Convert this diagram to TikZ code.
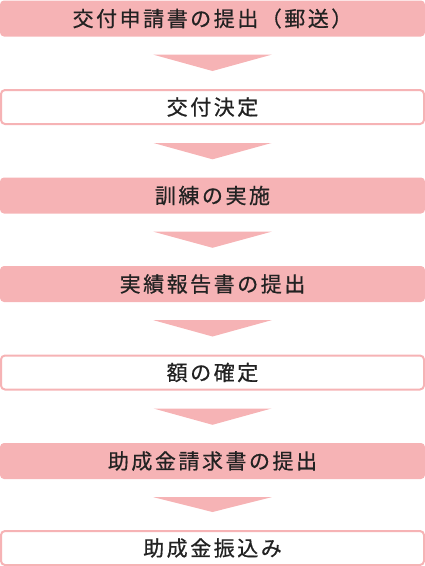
\documentclass[tikz,border=0pt]{standalone}
\usepackage{fontspec}
\newfontfamily\jp[LetterSpace=12,FakeBold=0.6]{Noto Sans CJK JP}
\definecolor{flowpink}{HTML}{F6B3B5}
\definecolor{flowtext}{HTML}{222222}
\begin{document}
\begin{tikzpicture}[x=1pt,y=1pt,
  base/.style={rounded corners=4pt, minimum width=423pt, minimum height=34pt, inner sep=0pt,
    font=\jp\fontsize{21pt}{24pt}\selectfont, text=flowtext},
  filledbox/.style={base, fill=flowpink, minimum width=425pt, minimum height=36pt},
  openbox/.style={base, draw=flowpink, line width=2pt, fill=white},
  arrowtri/.style={fill=flowpink}]
\useasboundingbox (0,0) rectangle (425,-566);
\node[filledbox] (b1) at (212.5,-18.5) {交付申請書の提出（郵送）\hspace{-2.5pt}};
\node[openbox]   (b2) at (212.5,-107) {交付決定\hspace{-2.5pt}};
\node[filledbox] (b3) at (212.5,-195.5) {訓練の実施\hspace{-2.5pt}};
\node[filledbox] (b4) at (212.5,-284) {実績報告書の提出\hspace{-2.5pt}};
\node[openbox]   (b5) at (212.5,-372.5) {額の確定\hspace{-2.5pt}};
\node[filledbox] (b6) at (212.5,-461) {助成金請求書の提出\hspace{-2.5pt}};
\node[openbox]   (b7) at (212.5,-548) {助成金振込み\hspace{-2.5pt}};
\foreach \a/\b in {b1/b2,b2/b3,b3/b4,b4/b5,b5/b6,b6/b7}{
  \fill[arrowtri] ([xshift=-59pt,yshift=-18pt]\a.south) -- ([xshift=59pt,yshift=-18pt]\a.south)
     -- ([yshift=18pt]\b.north) -- cycle;
}
\end{tikzpicture}
\end{document}
